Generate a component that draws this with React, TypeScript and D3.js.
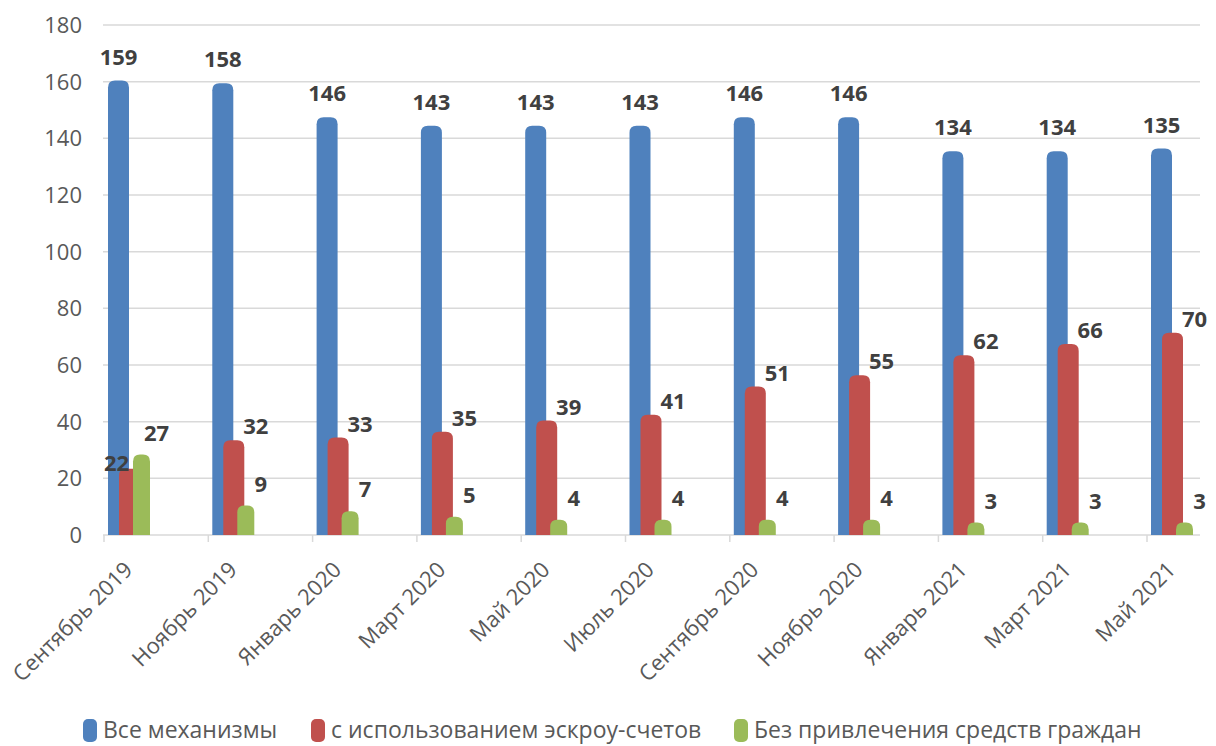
import React, { useEffect, useRef } from "react";
import * as d3 from "d3";

// Months of the reporting period
const categories = [
  "Сентябрь 2019",
  "Ноябрь 2019",
  "Январь 2020",
  "Март 2020",
  "Май 2020",
  "Июль 2020",
  "Сентябрь 2020",
  "Ноябрь 2020",
  "Январь 2021",
  "Март 2021",
  "Май 2021",
];

// Series values
const allMechanisms = [159, 158, 146, 143, 143, 143, 146, 146, 134, 134, 135];
const escrowAccounts = [22, 32, 33, 35, 39, 41, 51, 55, 62, 66, 70];
const withoutCitizens = [27, 9, 7, 5, 4, 4, 4, 4, 3, 3, 3];

const seriesNames = [
  "Все механизмы",
  "с использованием эскроу-счетов",
  "Без привлечения средств граждан",
];
const seriesColors = ["#4F81BD", "#C0504D", "#9BBB59"];

const yTicks = [0, 20, 40, 60, 80, 100, 120, 140, 160, 180];

const W = 1216;
const H = 746;
const FONT = "'Open Sans', 'Noto Sans', sans-serif";

// column with a rounded (cylinder-like) top
function capPath(x: number, w: number, yTop: number, yBase: number, r: number) {
  const rr = Math.min(r, w / 2, Math.max(0, yBase - yTop));
  return `M${x},${yBase} L${x},${yTop + rr} Q${x},${yTop} ${x + rr},${yTop} L${x + w - rr},${yTop} Q${x + w},${yTop} ${x + w},${yTop + rr} L${x + w},${yBase} Z`;
}

export default function App() {
  const ref = useRef<SVGSVGElement | null>(null);

  useEffect(() => {
    const svg = d3.select(ref.current);
    svg.selectAll("*").remove();

    const plotLeft = 103;
    const plotRight = 1200;
    const step = 104.3;
    const bandStart = 104;

    const y = d3.scaleLinear().domain([0, 180]).range([535, 25]);
    const x = d3
      .scaleBand<string>()
      .domain(categories)
      .range([bandStart, bandStart + step * categories.length])
      .paddingInner(0)
      .paddingOuter(0);

    const grid = "#D9D9D9";

    // gridlines
    svg
      .append("g")
      .selectAll("line")
      .data(yTicks.filter((t) => t > 0))
      .join("line")
      .attr("x1", plotLeft)
      .attr("x2", plotRight)
      .attr("y1", (d) => y(d))
      .attr("y2", (d) => y(d))
      .attr("stroke", grid)
      .attr("stroke-width", 1.5);

    // y tick labels
    svg
      .append("g")
      .selectAll("text")
      .data(yTicks)
      .join("text")
      .attr("x", 82)
      .attr("y", (d) => y(d))
      .attr("dy", "0.36em")
      .attr("text-anchor", "end")
      .attr("font-family", FONT)
      .attr("font-size", 22)
      .attr("fill", "#595959")
      .text((d) => d);

    // category axis
    svg
      .append("line")
      .attr("x1", plotLeft)
      .attr("x2", plotRight)
      .attr("y1", y(0))
      .attr("y2", y(0))
      .attr("stroke", grid)
      .attr("stroke-width", 1.5);

    svg
      .append("g")
      .selectAll("line")
      .data(categories)
      .join("line")
      .attr("x1", (d) => x(d)!)
      .attr("x2", (d) => x(d)!)
      .attr("y1", y(0))
      .attr("y2", y(0) + 7)
      .attr("stroke", grid)
      .attr("stroke-width", 1.5);

    svg
      .append("g")
      .selectAll("text")
      .data(categories)
      .join("text")
      .attr("transform", (d) => `translate(${x(d)! + 30},${571}) rotate(-45)`)
      .attr("text-anchor", "end")
      .attr("font-family", FONT)
      .attr("font-size", 22)
      .attr("fill", "#595959")
      .text((d) => d);

    // bars: offset within a category and width per series
    const seriesValues = [allMechanisms, escrowAccounts, withoutCitizens];
    const offsets = [4, 15, 29];
    const widths = [21, 21, 17];
    const capRise = 4;

    seriesValues.forEach((vals, s) => {
      svg
        .append("g")
        .selectAll("path")
        .data(vals)
        .join("path")
        .attr("d", (v, i) =>
          capPath(x(categories[i])! + offsets[s], widths[s], y(v) - capRise, y(0), 7)
        )
        .attr("fill", seriesColors[s]);
    });

    // value labels
    const labelG = svg
      .append("g")
      .attr("font-family", FONT)
      .attr("font-size", 22)
      .attr("font-weight", 700)
      .attr("fill", "#404040")
      .attr("text-anchor", "middle");

    allMechanisms.forEach((v, i) => {
      const cx = x(categories[i])! + offsets[0] + widths[0] / 2;
      labelG.append("text").attr("x", cx).attr("y", y(v) - 20).text(v);
    });

    escrowAccounts.forEach((v, i) => {
      const cx = x(categories[i])! + offsets[1] + widths[1] / 2;
      // when the green column stands taller, the label moves to the left side
      const leftSide = withoutCitizens[i] > v;
      labelG
        .append("text")
        .attr("x", leftSide ? cx - 13 : cx + 22)
        .attr("y", leftSide ? y(v) - 2 : y(v) - 10)
        .text(v);
    });

    withoutCitizens.forEach((v, i) => {
      const cx = x(categories[i])! + offsets[2] + widths[2] / 2;
      labelG.append("text").attr("x", cx + 15).attr("y", y(v) - 18).text(v);
    });

    // legend
    const legend = svg.append("g").attr("font-family", FONT).attr("font-size", 23).attr("fill", "#595959");
    const legendX = [83, 311, 734];
    seriesNames.forEach((name, s) => {
      legend
        .append("rect")
        .attr("x", legendX[s])
        .attr("y", 719)
        .attr("width", 14)
        .attr("height", 23)
        .attr("rx", 5)
        .attr("fill", seriesColors[s]);
      legend
        .append("text")
        .attr("x", legendX[s] + 20)
        .attr("y", 738)
        .text(name);
    });
  }, []);

  return (
    <svg
      ref={ref}
      width={W}
      height={H}
      viewBox={`0 0 ${W} ${H}`}
      style={{ position: "absolute", left: 0, top: 0, background: "#fff" }}
    />
  );
}
